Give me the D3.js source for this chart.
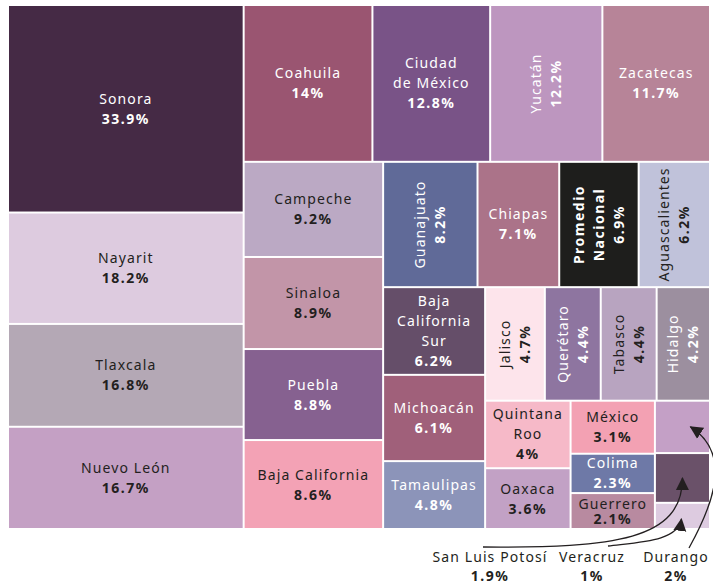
<!DOCTYPE html>
<html>
<head>
<meta charset="utf-8">
<script src="https://cdn.jsdelivr.net/npm/d3@7"></script>
<style>
  html, body { margin: 0; padding: 0; background: #fff; }
  svg { display: block; }
  text { font-family: "Noto Sans", sans-serif; font-size: 14px; }
  .name { letter-spacing: 1.1px; }
  .val { font-weight: 700; letter-spacing: 1.5px; }
</style>
</head>
<body>
<svg id="chart" width="713" height="585"></svg>
<script>
// states and their share, in the order the treemap places them
const states = [
  "Sonora", "Nayarit", "Tlaxcala", "Nuevo León",
  "Coahuila", "Ciudad de México", "Yucatán", "Zacatecas",
  "Campeche", "Sinaloa", "Puebla", "Baja California",
  "Guanajuato", "Chiapas", "Promedio Nacional", "Aguascalientes",
  "Baja California Sur", "Michoacán", "Tamaulipas",
  "Jalisco", "Querétaro", "Tabasco", "Hidalgo",
  "Quintana Roo", "Oaxaca", "México", "Colima", "Guerrero",
  "Durango", "San Luis Potosí", "Veracruz"
];
const values = [
  33.9, 18.2, 16.8, 16.7,
  14, 12.8, 12.2, 11.7,
  9.2, 8.9, 8.8, 8.6,
  8.2, 7.1, 6.9, 6.2,
  6.2, 6.1, 4.8,
  4.7, 4.4, 4.4, 4.2,
  4, 3.6, 3.1, 2.3, 2.1,
  2, 1.9, 1
];
// labels drawn under the chart with an arrow
const outside = ["San Luis Potosí", "Veracruz", "Durango"];

const fill = {
  "Sonora": "#452a45", "Nayarit": "#ddcbdf", "Tlaxcala": "#b4a8b5", "Nuevo León": "#c4a0c4",
  "Coahuila": "#9a5571", "Ciudad de México": "#795387", "Yucatán": "#bd96bf", "Zacatecas": "#b78498",
  "Campeche": "#bba9c4", "Sinaloa": "#c295a8", "Puebla": "#866190", "Baja California": "#f3a2b5",
  "Guanajuato": "#606a98", "Chiapas": "#ab7389", "Promedio Nacional": "#1e1e1c", "Aguascalientes": "#c0c2da",
  "Baja California Sur": "#654e69", "Michoacán": "#a0607a", "Tamaulipas": "#8c94b9",
  "Jalisco": "#fde4eb", "Querétaro": "#8e75a0", "Tabasco": "#b8a4c0", "Hidalgo": "#9c8f9f",
  "Quintana Roo": "#f6b9c8", "Oaxaca": "#c2a1c5", "México": "#f3a1b3", "Colima": "#6e79a7",
  "Guerrero": "#b88aa0", "Durango": "#c4a0c6", "San Luis Potosí": "#6a5169", "Veracruz": "#ddcbe0"
};
const whiteText = new Set([
  "Sonora", "Coahuila", "Ciudad de México", "Yucatán", "Zacatecas", "Puebla",
  "Guanajuato", "Chiapas", "Promedio Nacional", "Baja California Sur", "Michoacán",
  "Tamaulipas", "Querétaro", "Hidalgo", "Colima"
]);
const rotated = new Set([
  "Yucatán", "Guanajuato", "Promedio Nacional", "Aguascalientes",
  "Jalisco", "Querétaro", "Tabasco", "Hidalgo"
]);
const nameLines = {
  "Ciudad de México": ["Ciudad", "de México"],
  "Baja California Sur": ["Baja", "California", "Sur"],
  "Quintana Roo": ["Quintana", "Roo"],
  "Promedio Nacional": ["Promedio", "Nacional"]
};
const boldName = new Set(["Promedio Nacional"]);

const dark = "#231f20";
const box = { x0: 9, y0: 6, x1: 709, y1: 528 };
const fmt = (v) => `${v}%`;

const svg = d3.select("#chart");

const root = d3
  .hierarchy({ children: states.map((s, i) => ({ name: s, value: values[i] })) })
  .sum((d) => d.value || 0)
  .sort((a, b) => b.value - a.value);

d3.treemap()
  .tile(d3.treemapSquarify)
  .size([box.x1 - box.x0, box.y1 - box.y0])
  .paddingInner(2)(root);

const plot = svg.append("g").attr("transform", `translate(${box.x0},${box.y0})`);

const cell = plot
  .selectAll("g.cell")
  .data(root.leaves())
  .join("g")
  .attr("class", "cell");

cell
  .append("rect")
  .attr("x", (d) => d.x0)
  .attr("y", (d) => d.y0)
  .attr("width", (d) => d.x1 - d.x0)
  .attr("height", (d) => d.y1 - d.y0)
  .attr("fill", (d) => fill[d.data.name]);

cell
  .filter((d) => !outside.includes(d.data.name))
  .each(function (d) {
    const name = d.data.name;
    const lines = (nameLines[name] || [name])
      .map((t) => ({ t, cls: boldName.has(name) ? "name val" : "name" }))
      .concat([{ t: fmt(d.value), cls: "val" }]);
    const rot = rotated.has(name);
    const span = rot ? d.x1 - d.x0 : d.y1 - d.y0;
    const lh = span < 36 ? 15 : 20;
    d3.select(this)
      .append("g")
      .attr("transform", `translate(${(d.x0 + d.x1) / 2},${(d.y0 + d.y1) / 2}) rotate(${rot ? -90 : 0})`)
      .selectAll("text")
      .data(lines)
      .join("text")
      .attr("class", (l) => l.cls)
      .attr("text-anchor", "middle")
      .attr("y", (l, i) => (i - (lines.length - 1) / 2) * lh + 5)
      .attr("fill", whiteText.has(name) ? "#fff" : dark)
      .text((l) => l.t);
  });

// outside labels + arrows pointing at the small cells
const leafOf = (name) => root.leaves().find((d) => d.data.name === name);
const center = (name) => {
  const d = leafOf(name);
  return [box.x0 + (d.x0 + d.x1) / 2, box.y0 + (d.y0 + d.y1) / 2];
};

svg.append("defs")
  .append("marker")
  .attr("id", "head")
  .attr("markerUnits", "userSpaceOnUse")
  .attr("viewBox", "0 -7 13 14")
  .attr("refX", 12)
  .attr("refY", 0)
  .attr("markerWidth", 13)
  .attr("markerHeight", 14)
  .attr("orient", "auto")
  .append("path")
  .attr("d", "M0,-6.5L13,0L0,6.5Z")
  .attr("fill", dark);

const notes = [
  { name: "San Luis Potosí", x: 490 },
  { name: "Veracruz", x: 592 },
  { name: "Durango", x: 676 }
];

const arrowPath = (name) => {
  const [cx, cy] = center(name);
  const p = d3.path();
  if (name === "San Luis Potosí") {
    p.moveTo(483, 547);
    p.bezierCurveTo(615, 548, cx, 540, cx, cy);
  } else if (name === "Veracruz") {
    p.moveTo(608, 546);
    p.bezierCurveTo(640, 542, cx - 4, 541, cx - 1, cy + 3);
  } else {
    p.moveTo(689, 548);
    p.bezierCurveTo(710, 510, 735, 455, cx + 8, cy);
  }
  return p.toString();
};

svg.append("g")
  .selectAll("path")
  .data(notes)
  .join("path")
  .attr("d", (n) => arrowPath(n.name))
  .attr("fill", "none")
  .attr("stroke", dark)
  .attr("stroke-width", 1.3)
  .attr("marker-end", "url(#head)");

const noteG = svg.append("g")
  .selectAll("g")
  .data(notes)
  .join("g")
  .attr("transform", (n) => `translate(${n.x},0)`);

noteG.append("text")
  .attr("class", "name")
  .attr("text-anchor", "middle")
  .attr("y", 562)
  .attr("fill", dark)
  .text((n) => n.name);

noteG.append("text")
  .attr("class", "val")
  .attr("text-anchor", "middle")
  .attr("y", 581)
  .attr("fill", dark)
  .text((n) => fmt(leafOf(n.name).value));
</script>
</body>
</html>
